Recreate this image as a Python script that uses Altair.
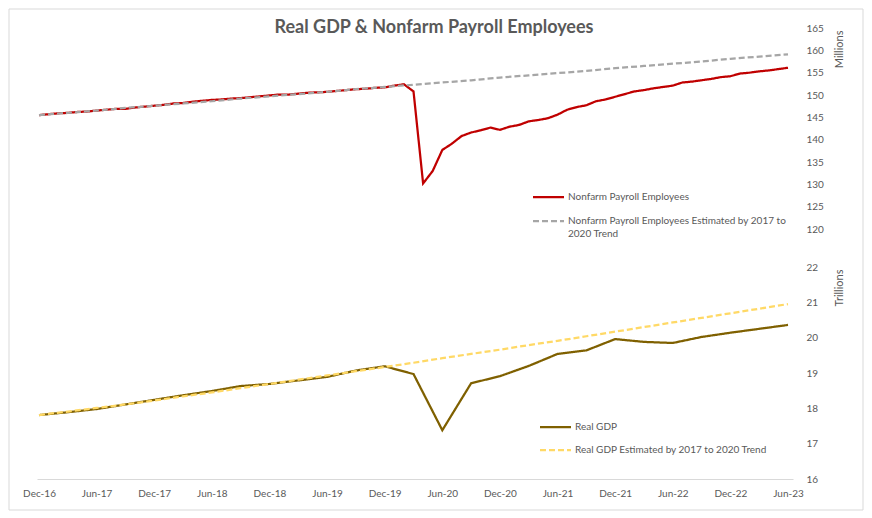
import altair as alt
import pandas as pd

TITLE = "Real GDP & Nonfarm Payroll Employees"

tick_labels = ["Dec-16", "Jun-17", "Dec-17", "Jun-18", "Dec-18", "Jun-19", "Dec-19",
               "Jun-20", "Dec-20", "Jun-21", "Dec-21", "Jun-22", "Dec-22", "Jun-23"]

series_names = ["Nonfarm Payroll Employees",
                "Nonfarm Payroll Employees Estimated by 2017 to 2020 Trend",
                "Real GDP",
                "Real GDP Estimated by 2017 to 2020 Trend"]
series_colors = ["#C00000", "#A6A6A6", "#7F6000", "#FFD966"]

# Monthly, Dec-16 .. Jun-23 (millions)
payroll = [145.5,
           145.7, 145.9, 146.0, 146.2, 146.3, 146.5, 146.7, 146.9, 146.9, 147.2, 147.4, 147.6,
           147.8, 148.1, 148.2, 148.5, 148.7, 148.9, 149.0, 149.2, 149.3, 149.5, 149.7, 149.9,
           150.1, 150.1, 150.3, 150.5, 150.6, 150.7, 150.9, 151.1, 151.3, 151.4, 151.6, 151.7,
           152.1, 152.4, 150.8, 130.2, 133.0, 137.7, 139.1, 140.8, 141.6, 142.1, 142.7, 142.2,
           142.9, 143.3, 144.1, 144.4, 144.8, 145.6, 146.7, 147.3, 147.7, 148.6, 149.0, 149.6,
           150.2, 150.8, 151.1, 151.5, 151.8, 152.1, 152.8, 153.0, 153.3, 153.6, 154.0, 154.2,
           154.8, 155.0, 155.3, 155.5, 155.8, 156.1]

# Quarterly, Dec-16 .. Jun-23 (millions)
payroll_trend = [145.5, 146.0, 146.5, 147.1, 147.6, 148.1, 148.6, 149.2, 149.7, 150.2,
                 150.7, 151.3, 151.8, 152.3, 152.8, 153.3, 153.9, 154.4, 154.9, 155.4,
                 156.0, 156.5, 157.0, 157.5, 158.1, 158.6, 159.1]

# Quarterly, Dec-16 .. Jun-23 (trillions)
gdp = [17.81, 17.89, 17.98, 18.11, 18.24, 18.37, 18.49, 18.63, 18.69, 18.79,
       18.89, 19.07, 19.19, 18.97, 17.38, 18.71, 18.91, 19.20, 19.54, 19.64,
       19.96, 19.88, 19.85, 20.02, 20.14, 20.25, 20.36]

gdp_trend = [17.81, 17.91, 18.01, 18.11, 18.22, 18.34, 18.45, 18.57, 18.69, 18.81,
             18.93, 19.05, 19.17, 19.29, 19.42, 19.54, 19.66, 19.79, 19.91, 20.04,
             20.17, 20.30, 20.43, 20.56, 20.69, 20.82, 20.95]

payroll_ticks = [120, 125, 130, 135, 140, 145, 150, 155, 160, 165]
gdp_ticks = [16, 17, 18, 19, 20, 21, 22]

GRAY = "#595959"
FONT = "Lato"

pay_df = pd.DataFrame(
    [{"m": i, "value": v, "series": series_names[0]} for i, v in enumerate(payroll)] +
    [{"m": 3 * i, "value": v, "series": series_names[1]} for i, v in enumerate(payroll_trend)]
)
gdp_df = pd.DataFrame(
    [{"m": 3 * i, "gval": v, "series": series_names[2]} for i, v in enumerate(gdp)] +
    [{"m": 3 * i, "gval": v, "series": series_names[3]} for i, v in enumerate(gdp_trend)]
)

label_array = "[" + ",".join("'" + t + "'" for t in tick_labels) + "]"
x_scale = alt.Scale(domain=[-0.21, 78.52], nice=False, zero=False)
x_axis = alt.Axis(values=list(range(0, 79, 6)),
                  labelExpr=label_array + "[round(datum.value/6)]",
                  grid=False, ticks=False, tickSize=0, domainColor="#D9D9D9",
                  labelColor=GRAY, labelFont=FONT, labelFontSize=10, labelPadding=9,
                  title=None)

color = alt.Color("series:N", scale=alt.Scale(domain=series_names, range=series_colors), legend=None)
dash = alt.StrokeDash("series:N",
                      scale=alt.Scale(domain=series_names, range=[[1, 0], [6, 3], [1, 0], [6, 3]]),
                      legend=None)


def y_axis(values, title, title_y):
    return alt.Axis(orient="right", values=values, grid=False, ticks=False, tickSize=0,
                    domain=False, labelColor=GRAY, labelFont=FONT, labelFontSize=10,
                    labelPadding=13, title=title, titleColor=GRAY, titleFont=FONT,
                    titleFontSize=11, titleFontWeight="normal", titleAngle=270,
                    titleAlign="right", titleBaseline="middle", titleX=46, titleY=title_y)


pay_layer = alt.Chart(pay_df).mark_line(strokeWidth=2.25).encode(
    x=alt.X("m:Q", scale=x_scale, axis=x_axis),
    y=alt.Y("value:Q", scale=alt.Scale(domain=[120, 165], range=[201, 0], nice=False, zero=False),
            axis=y_axis(payroll_ticks, "Millions", 2)),
    color=color, strokeDash=dash,
)

gdp_layer = alt.Chart(gdp_df).mark_line(strokeWidth=2.25).encode(
    x=alt.X("m:Q", scale=x_scale, axis=x_axis),
    y=alt.Y("gval:Q", scale=alt.Scale(domain=[16, 22], range=[451, 239], nice=False, zero=False),
            axis=y_axis(gdp_ticks, "Trillions", 241)),
    color=color, strokeDash=dash,
)

frame = alt.Chart().mark_rect(filled=False, color="#D9D9D9", strokeWidth=1).encode(
    x=alt.value(-28), x2=alt.value(826), y=alt.value(-19), y2=alt.value(482))

title = alt.Chart().mark_text(align="center", baseline="middle", font=FONT, fontSize=18,
                              fontWeight="bold", color=GRAY).encode(
    x=alt.value(397), y=alt.value(0), text=alt.value(TITLE))


def legend_entry(idx, x0, x1, y, text):
    sym = alt.Chart().mark_rule(color=series_colors[idx], strokeWidth=2.25,
                                strokeDash=[1, 0] if idx % 2 == 0 else [6, 3]).encode(
        x=alt.value(x0), x2=alt.value(x1), y=alt.value(y))
    lab = alt.Chart().mark_text(align="left", baseline="middle", font=FONT, fontSize=10,
                                lineHeight=13, color=GRAY).encode(
        x=alt.value(x1 + 4), y=alt.value(y), text=alt.value(text))
    return [sym, lab]


legend_layers = (
    legend_entry(0, 496, 527, 169, series_names[0]) +
    legend_entry(1, 496, 527, 193,
                 ["Nonfarm Payroll Employees Estimated by 2017 to", "2020 Trend"]) +
    legend_entry(2, 503, 534, 399, series_names[2]) +
    legend_entry(3, 503, 534, 422, series_names[3])
)

chart = alt.layer(frame, pay_layer, gdp_layer, title, *legend_layers).resolve_scale(
    y="independent"
).properties(
    width=756, height=451, padding=0, background="white"
).configure_view(stroke=None)

chart.save("out.html", embed_options={"renderer": "svg", "actions": False})
